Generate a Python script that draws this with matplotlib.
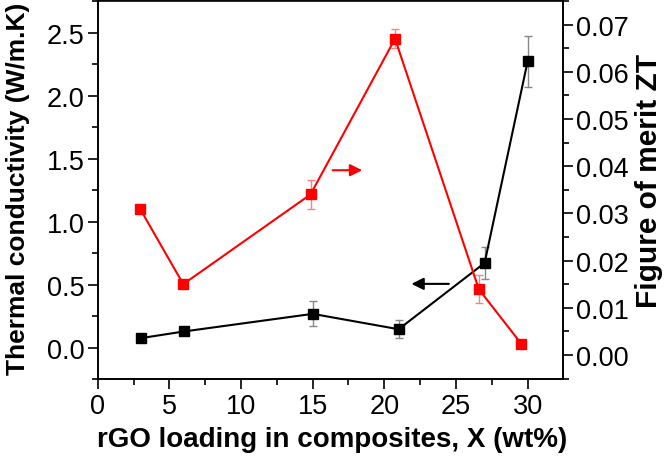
import matplotlib
matplotlib.use("Agg")
import matplotlib.pyplot as plt
from matplotlib.ticker import MultipleLocator

plt.rcParams['font.family'] = ['Liberation Sans', 'DejaVu Sans']

# Thermal conductivity (left axis)
x_k = [3, 6, 15, 21, 27, 30]
k_vals = [0.074, 0.127, 0.267, 0.145, 0.671, 2.27]
k_err = [0.02, 0.03, 0.10, 0.07, 0.13, 0.20]

# Figure of merit ZT (right axis)
x_zt = [2.95, 5.97, 14.85, 20.75, 26.6, 29.55]
zt_vals = [0.031, 0.015, 0.034, 0.067, 0.0139, 0.0024]
zt_err = [0.0006, 0.0003, 0.003, 0.002, 0.003, 0.0005]

fig = plt.figure(figsize=(6.67, 4.6), dpi=100)
ax = fig.add_axes([97.7/667, 1 - 380/460, (563 - 97.7)/667, (380 - 1.5)/460])
ax2 = ax.twinx()

ax.errorbar(x_k, k_vals, yerr=k_err, color='black', marker='s', markersize=7,
            linewidth=1.5, ecolor='#888888', elinewidth=1, capsize=3, capthick=1, zorder=3)
ax2.errorbar(x_zt, zt_vals, yerr=zt_err, color='#ff0000', marker='s', markersize=7,
             linewidth=1.5, ecolor='#ff8080', elinewidth=1, capsize=3, capthick=1, zorder=3)

ax.set_xlim(0, 32.47)
ax.set_ylim(-0.25, 2.754)
ax2.set_ylim(-0.0051, 0.0751)

ax.xaxis.set_major_locator(MultipleLocator(5))
ax.xaxis.set_minor_locator(MultipleLocator(2.5))
ax.yaxis.set_major_locator(MultipleLocator(0.5))
ax.yaxis.set_minor_locator(MultipleLocator(0.25))
ax2.yaxis.set_minor_locator(MultipleLocator(0.005))
ax2.set_yticks([0, 0.01, 0.02, 0.03, 0.04, 0.05, 0.06, 0.07])
ax2.set_yticklabels(['0.00', '0.01', '0.02', '0.03', '0.04', '0.05', '0.06', '0.07'])

for a in (ax, ax2):
    a.tick_params(which='major', direction='out', length=7, width=1.2, labelsize=19.5)
    a.tick_params(which='minor', direction='out', length=4.5, width=1.2)
    for s in a.spines.values():
        s.set_linewidth(1.2)
ax.tick_params(axis='y', pad=2.5)
ax2.tick_params(axis='y', pad=2.5)
ax.tick_params(axis='x', pad=3)

ax.set_xlabel('rGO loading in composites, X (wt%)', fontsize=20, fontweight='bold')
ax.set_ylabel('Thermal conductivity (W/m.K)', fontsize=19, fontweight='bold')
ax2.set_ylabel('Figure of merit ZT', fontsize=21.5, fontweight='bold')
ax.xaxis.set_label_coords(0.5045, -0.124)
ax.yaxis.set_label_coords(-0.1445, 0.505)
ax2.yaxis.set_label_coords(1.155, 0.526)

# arrows
ax.annotate('', xy=(18.65, 1.407), xytext=(16.2, 1.407),
            arrowprops=dict(arrowstyle='-|>', color='#ff0000', lw=1.5, mutation_scale=18))
ax.annotate('', xy=(21.7, 0.505), xytext=(24.7, 0.505),
            arrowprops=dict(arrowstyle='-|>', color='black', lw=1.5, mutation_scale=18))

fig.savefig('out.png', dpi=100)
